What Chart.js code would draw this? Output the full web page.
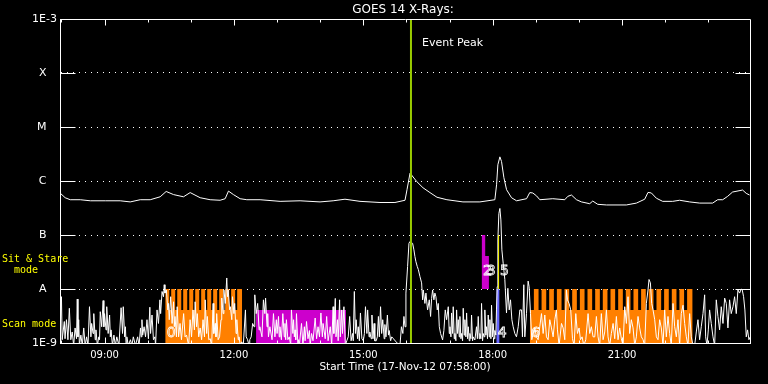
<!DOCTYPE html>
<html><head><meta charset="utf-8">
<script src="https://cdn.jsdelivr.net/npm/chart.js@4/dist/chart.umd.min.js"></script>
<style>html,body{margin:0;padding:0;background:#000;overflow:hidden}canvas{display:block}</style>
</head><body>
<canvas id="c" width="768" height="384"></canvas>
<script>
// ---------- texts ----------
const plotTitle = 'GOES 14 X-Rays:';
const startLabel = 'Start Time (17-Nov-12 07:58:00)';
const eventLabel = 'Event Peak';
const modeLabelsSS = ['Sit & Stare', '  mode'];
const modeLabelScan = 'Scan mode';

// ---------- axes ----------
const startMinuteOfDay = 478;          // 07:58
const spanMinutes = 960;               // 16 hours
const xTickMinutes = [62, 242, 422, 602, 782];   // 09:00 ... 21:00
const yTickValues = [1e-9, 1e-8, 1e-7, 1e-6, 1e-5, 1e-4, 1e-3];
const yTickLabels = ['1E-9', 'A', 'B', 'C', 'M', 'X', '1E-3'];

// ---------- long channel (1-8 A), minutes after start / W m^-2 ----------
const longT = [0,7.2,14.2,28.2,42.2,63,83.8,97.7,111.6,125.5,139.4,147.7,158,171.8,181.1,195,208.9,222.8,229.8,234.4,241.3,250.6,259.9,278.4,306.2,334,361.8,380,396.5,417.4,445.2,466,480,482.8,487,496.2,505,514.7,524.5,538.3,560.6,584.2,605,607.4,609.2,612,614.3,617.6,621.3,628.2,635.2,649.1,653.6,657.8,663,667.6,685.6,702.3,706.5,711.6,718.6,725.5,737,741.2,748.2,760.3,788,802,813.5,818.1,822.8,829.7,838.5,852.4,862.1,876,890,908,915,922,928.9,935.8,949.7,954.8,959.4];
const longF = [6.0e-7,4.9e-7,4.5e-7,4.5e-7,4.3e-7,4.3e-7,4.3e-7,4.1e-7,4.5e-7,4.5e-7,5.1e-7,6.4e-7,5.6e-7,5.1e-7,6.1e-7,4.9e-7,4.5e-7,4.4e-7,4.7e-7,6.5e-7,5.6e-7,4.7e-7,4.5e-7,4.5e-7,4.2e-7,4.3e-7,4.1e-7,4.3e-7,4.6e-7,4.2e-7,4.0e-7,4.0e-7,4.4e-7,6.9e-7,1.4e-6,9.8e-7,7.5e-7,6.1e-7,5.0e-7,4.5e-7,4.1e-7,4.1e-7,4.5e-7,8.5e-7,2.0e-6,2.8e-6,2.3e-6,1.15e-6,6.9e-7,4.9e-7,4.3e-7,4.7e-7,6.1e-7,6.0e-7,5.3e-7,4.5e-7,4.7e-7,4.5e-7,5.2e-7,5.5e-7,4.5e-7,4.1e-7,3.8e-7,4.25e-7,3.7e-7,3.6e-7,3.6e-7,3.9e-7,4.6e-7,6.15e-7,6.0e-7,4.8e-7,4.2e-7,4.2e-7,4.4e-7,4.1e-7,3.9e-7,3.9e-7,4.5e-7,4.5e-7,5.2e-7,6.25e-7,6.8e-7,5.9e-7,5.5e-7];

// ---------- short channel (0.5-4 A) ----------
const shortT = [0,2,3,6,7,9,11,13,15,17,19,21,23,24,25,26,27,29,31,33,35,37,39,41,43,44,46,47,49,50,52,54,55,56,58,60,61,62,64,65,67,69,70,71,73,75,77,79,82,85,87,88,90,91,92,93,95,98,100,102,105,108,110,112,113,114,115,117,119,121,123,125,126,128,130,132,133,135,137,139,140,142,144,145,146,148,150,151,152,154,156,158,159,160,162,163,165,167,169,172,174,176,179,181,183,185,187,188,190,191,193,195,197,199,201,202,204,205,207,209,211,213,214,216,217,218,220,222,224,225,227,228,230,232,233,234,236,237,239,240,242,243,245,246,248,249,251,253,255,258,259,261,263,264,266,268,270,271,273,275,277,278,281,283,285,286,288,289,290,292,295,297,299,301,302,304,305,306,308,310,312,313,314,315,317,319,321,322,324,325,326,327,328,329,331,332,333,
336,338,340,341,343,345,347,348,350,352,355,357,359,361,363,365,366,369,371,373,376,378,380,381,383,384,386,387,389,390,392,393,395,397,399,401,403,405,407,408,409.5,411,412,414,415,416.5,418,420,422,423.5,425,427,428,430,431,433,434,435.5,437,438,440,441.5,443,444.3,446,447.5,449,451,452,453.5,455.5,457,458,460,461.5,464,466,468,471,473,475,477,478.5,480,481.3,483.6,485.5,486.9,488.3,490.6,492.4,493.8,495.2,497.1,498.5,500.8,503.1,504.5,505.4,507.7,509.1,511.4,513.8,515.6,517,518.4,520.2,521.6,523,524.9,526.3,527.7,529.5,532.3,534.1,536,537.9,540.2,541.6,542.5,543.9,544.8,546.2,547.1,548.5,549.4,550.8,551.8,553.1,554.1,555.5,556.4,557.8,558.7,560.1,561,562.4,563.3,564.7,565.7,567,568,569.4,570.3,571.7,572.6,574,574.9,577.2,579.5,580.7,581.9,583.3,584.2,585.6,586.5,587.9,588.8,590.2,591.1,592.5,593.4,594.8,595.8,597.2,598.1,599.5,600.4,601.8,602.7,604.1,605,606.4,607.3,608.3,609.2,610.6,612,613.4,614.8,616.6,618.9,621.2,623.1,625,626.8,628.7,630.5,632.8,635.1,637.5,639.8,
642.1,643.4,645.3,646.7,649,651.3,652.7,654.6,656.4,658.3,660.6,662.9,665.2,667.5,669.9,672.2,674.5,676.8,679.1,681.4,683.8,686.1,688.4,690.7,692.1,694.4,697.7,700,702.3,704.6,706,708.3,710.6,713,715.3,717.6,719.9,722.2,724.1,726.4,728.7,731.5,734.7,737,739.3,741.7,744,746.3,748.6,750.9,753.2,755.6,757.9,760.2,762.5,764.8,767.1,769.5,771.8,774.1,776.4,778.7,781,783.4,785.7,788,790.3,792.6,794.9,797.3,799.6,801.9,804.2,806.5,808.8,811.2,813.5,815.8,818.1,819.5,821.4,823.2,825.1,827.4,829.7,832,834.3,836.6,839,841.3,843.6,845.9,848.2,850.5,852.9,855.2,857.5,859.8,862.1,864.4,866.8,869.1,871.4,873.7,876,878.3,880.7,883,885.3,887.6,889.9,892.2,894.6,896.9,898.3,900.1,902,903.8,906.1,908.5,910.8,913.1,915.4,917.7,920,922.4,924.7,927,929.3,931.6,933.9,936.3,938.6,940.9,943.2,945.5,947.8,949.2,951.1,952.9,954.8,956.6,958.5,960.3];
const shortF = [1.5e-9,7.2e-9,1.15e-9,2.5e-9,1.2e-9,2.7e-9,1.15e-9,4.4e-9,1.15e-9,1.6e-9,9e-10,1.9e-9,1.2e-9,6.5e-9,1.3e-9,2.7e-9,9e-10,1.4e-9,9e-10,1.9e-9,9e-10,1.3e-9,9e-10,4.7e-9,1.3e-9,2.3e-9,1.5e-9,3.5e-9,1.15e-9,1.75e-9,9e-10,1.3e-9,1.15e-9,3.8e-9,2.0e-9,6.1e-9,2.0e-9,3.5e-9,1.75e-9,4.7e-9,1.5e-9,3.3e-9,1.3e-9,1.75e-9,9e-10,1.4e-9,9e-10,1.3e-9,9e-10,4.5e-9,1.5e-9,4.7e-9,1.3e-9,2.0e-9,9e-10,1.3e-9,9e-10,1.15e-9,9e-10,1.3e-9,9e-10,1.3e-9,9e-10,1.9e-9,1.3e-9,2.7e-9,1.4e-9,2.0e-9,1.3e-9,2.7e-9,1.2e-9,4.6e-9,1.5e-9,3.3e-9,1.15e-9,1.3e-9,9e-10,4.1e-9,2.3e-9,6.3e-9,3.5e-9,9.0e-9,7.2e-9,1.2e-8,8.4e-9,9.6e-9,4.1e-9,5.4e-9,2.7e-9,7.2e-9,2.3e-9,5.8e-9,2.0e-9,3.1e-9,1.3e-9,4.7e-9,1.3e-9,2.3e-9,1.15e-9,3.5e-9,1.3e-9,1.4e-9,9e-10,2.7e-9,1.3e-9,4.1e-9,1.75e-9,5.8e-9,2.0e-9,3.5e-9,1.3e-9,1.9e-9,1.15e-9,2.7e-9,1.3e-9,6.3e-9,1.5e-9,3.1e-9,1.15e-9,1.2e-9,9e-10,5.4e-9,1.5e-9,2.3e-9,1.3e-9,3.5e-9,1.15e-9,1.3e-9,2.7e-9,6.8e-9,3.5e-9,9.6e-9,5.4e-9,1.6e-8,7.2e-9,9.6e-9,4.1e-9,4.7e-9,2.7e-9,7.2e-9,3.5e-9,5.4e-9,1.5e-9,2.7e-9,1.15e-9,1.3e-9,9e-10,1.05e-9,9e-10,4.1e-9,1.3e-9,1.15e-9,9e-10,1.15e-9,1.3e-9,2.3e-9,2.0e-9,7.8e-9,3.5e-9,5.4e-9,1.75e-9,2.0e-9,1.3e-9,6.3e-9,3.5e-9,6.8e-9,2.0e-9,3.5e-9,1.3e-9,2.0e-9,1.15e-9,3.5e-9,1.3e-9,2.7e-9,1.5e-9,3.1e-9,1.3e-9,2.0e-9,1.15e-9,3.5e-9,1.3e-9,2.3e-9,1.15e-9,2.7e-9,1.15e-9,1.3e-9,9e-10,4.1e-9,1.5e-9,2.7e-9,1.3e-9,1.75e-9,1.15e-9,3.5e-9,9e-10,1.15e-9,9e-10,
2.3e-9,9e-10,2.0e-9,1.1e-9,2.5e-9,1.2e-9,1.7e-9,9e-10,1.5e-9,1.1e-9,2.9e-9,1.2e-9,2.0e-9,1.3e-9,3.6e-9,1.3e-9,2.3e-9,1.2e-9,3.1e-9,1.1e-9,2.0e-9,9e-10,4.7e-9,1.5e-9,6.7e-9,1.3e-9,2.7e-9,1.1e-9,6.3e-9,1.3e-9,4.1e-9,1.5e-9,4.7e-9,9e-10,1.1e-9,1.3e-9,3.1e-9,1.1e-9,1.5e-9,1.1e-9,9.0e-9,1.5e-9,2.7e-9,1.2e-9,2.0e-9,1.1e-9,3.6e-9,1.2e-9,1.1e-9,1.5e-9,4.7e-9,1.5e-9,4.1e-9,1.3e-9,1.6e-9,1.2e-9,3.3e-9,1.2e-9,2.3e-9,1.1e-9,1.1e-9,1.3e-9,3.1e-9,1.3e-9,4.7e-9,1.5e-9,2.7e-9,1.2e-9,2.2e-9,1.3e-9,3.3e-9,1.4e-9,1.7e-9,1.1e-9,1.3e-9,1.2e-9,1.1e-9,1.05e-9,9e-10,9e-10,2.0e-9,1.5e-9,3.1e-9,2.0e-9,8.4e-9,2.6e-8,7.0e-8,7.6e-8,7.3e-8,7.0e-8,5.3e-8,4.0e-8,3.2e-8,2.6e-8,2.3e-8,1.7e-8,1.3e-8,6.3e-9,9.6e-9,5.4e-9,8.4e-9,4.1e-9,6.3e-9,3.1e-9,6.7e-9,9.6e-9,6.3e-9,8.4e-9,7.2e-9,4.1e-9,5.4e-9,2.0e-9,1.5e-9,1.14e-9,1.7e-9,4.1e-9,2.7e-9,4.7e-9,1.5e-9,2.0e-9,1.3e-9,3.6e-9,1.5e-9,4.7e-9,1.2e-9,1.5e-9,1.1e-9,4.1e-9,1.5e-9,2.7e-9,1.3e-9,3.1e-9,1.2e-9,1.5e-9,1.1e-9,4.4e-9,1.4e-9,2.7e-9,1.3e-9,3.6e-9,1.2e-9,2.0e-9,1.1e-9,1.5e-9,1.2e-9,3.3e-9,1.1e-9,1.3e-9,1.14e-9,2.0e-9,1.2e-9,3.1e-9,1.2e-9,1.5e-9,1.2e-9,5.4e-9,1.1e-9,1.5e-9,1.3e-9,4.1e-9,1.4e-9,2.0e-9,1.2e-9,3.3e-9,1.3e-9,2.7e-9,1.2e-9,5.0e-9,1.3e-9,2.3e-9,1.2e-9,1.7e-9,1.4e-9,4.1e-9,1.1e-8,8.1e-8,2.5e-7,3.1e-7,1.9e-7,5.3e-8,3.0e-8,1.5e-8,3.6e-9,1.03e-8,4.1e-9,6.3e-9,2.7e-9,2.0e-9,1.5e-9,1.3e-9,2.0e-9,4.1e-9,
4.1e-9,1.3e-9,1.2e-8,1.3e-9,3.5e-9,1.4e-8,1.1e-8,3.5e-9,1.15e-9,1.5e-9,1.9e-9,1.3e-9,1.15e-9,2.0e-9,3.5e-9,1.5e-9,3.3e-9,1.3e-9,1.15e-9,2.7e-9,1.9e-9,1.3e-9,2.7e-9,4.1e-9,1.75e-9,9e-10,2.3e-9,1.9e-9,1.15e-9,9.6e-9,6.3e-9,5.4e-9,4.1e-9,1.2e-9,9e-10,3.5e-9,1.5e-9,1.9e-9,1.15e-9,1.3e-9,9e-10,1.15e-9,3.5e-9,1.5e-9,2.0e-9,1.3e-9,1.3e-9,3.1e-9,1.3e-9,9e-10,3.5e-9,1.15e-9,1.6e-9,4.1e-9,1.3e-9,9e-10,1.5e-9,2.3e-9,1.2e-9,3.1e-9,1.15e-9,1.9e-9,1.2e-9,9e-10,4.7e-9,2.3e-9,7.2e-9,1.5e-9,2.7e-9,1.9e-9,9e-10,1.3e-9,3.1e-9,1.9e-9,1.3e-9,1.15e-9,9e-10,5.4e-9,9.6e-9,1.5e-8,1.3e-8,5.4e-9,4.1e-9,2.7e-9,1.3e-9,1.15e-9,2.7e-9,1.9e-9,9e-10,4.1e-9,1.3e-9,3.1e-9,1.5e-9,9e-10,5.4e-9,2.0e-9,1.3e-9,2.7e-9,9e-10,3.5e-9,5.0e-9,2.3e-9,1.3e-9,9e-10,3.5e-9,1.3e-9,9e-10,9e-10,1.6e-9,2.7e-9,1.15e-9,2.0e-9,3.5e-9,7.8e-9,1.3e-9,9e-10,1.75e-9,4.1e-9,2.3e-9,1.3e-9,9e-10,6.3e-9,3.1e-9,1.75e-9,4.7e-9,2.3e-9,6.8e-9,5.4e-9,1.9e-9,6.3e-9,3.5e-9,4.7e-9,7.2e-9,3.5e-9,9.6e-9,8.4e-9,1.0e-8,9.6e-9,7.2e-9,4.1e-9,1.3e-9,1.75e-9,1.15e-9,1.3e-9];

// ---------- event ----------
const eventPeakT = 488.3;

// ---------- observing modes ----------
const scanBase = 4.1e-9, scanTop = 1e-8;
const scan0Start = 146.4, scan0End = 253.4;
const scan0ToothStart = [146.4,154.7,163.1,171.4,179.8,188.1,196.4,204.8,213.1,221.5,229.8,238.1,246.5];
const scan0ToothEnd   = [152.0,160.3,168.7,177.0,185.4,193.7,202.0,210.4,218.7,227.1,235.4,243.7,253.4];
const scan6Start = 653.7, scan6End = 880.2;
const scan6ToothStart = [659.3,670.0,680.6,691.3,701.9,712.6,723.3,733.9,744.6,755.2,765.9,776.6,787.2,797.9,808.5,819.2,829.9,840.5,851.2,861.8,872.5];
const scan6ToothEnd   = [665.8,676.5,687.1,697.8,708.4,719.1,729.8,740.4,751.1,761.7,772.4,783.1,793.7,804.4,815.0,825.7,836.4,847.0,857.7,868.3,880.2];
const magScanT = [272.8, 398.0];
const magScanF = [4.1e-9, 4.1e-9];
const magSST = [586.6, 591.6, 596.8];
const magSSF = [1e-7, 4.1e-8, 4.1e-8];
const ssBase = 1e-8;
const blueT = [607.0, 611.6];
const blueF = [1e-8, 1e-8];
const yellowT = [610.2, 610.2];
const yellowF = [1e-8, 1e-7];
const obsLabels = ['0', '2', '3', '4', '5', '6'];
const obsT = [146.4, 586.6, 591.6, 607.0, 610.2, 653.7];
const obsF = [1.53e-9, 2.1e-8, 2.1e-8, 1.53e-9, 2.1e-8, 1.53e-9];

// ---------- build ----------
const zip = (t, f) => t.map((x, i) => ({x, y: f[i]}));
function comb(start, end, ts, te) {
  const pts = [{x: start, y: scanBase}];
  ts.forEach((s, i) => { pts.push({x: s, y: scanTop}); pts.push({x: te[i], y: scanBase}); });
  pts.push({x: end, y: scanBase});
  return pts;
}
const fmt = v => {
  const m = Math.round(startMinuteOfDay + v);
  return String(Math.floor(m / 60) % 24).padStart(2, '0') + ':' + String(m % 60).padStart(2, '0');
};
const FONT = 'DejaVu Sans';

const decor = {
  id: 'decor',
  afterDraw(chart) {
    const {ctx, chartArea: a, scales: {x, y}} = chart;
    ctx.save();
    ctx.strokeStyle = '#fff';
    ctx.lineWidth = 1;
    const L = Math.round(a.left) + 0.5, R = Math.round(a.right) + 0.5;
    const T = Math.round(a.top) + 0.5, B = Math.round(a.bottom) + 0.5;
    ctx.beginPath();
    ctx.rect(L, T, R - L, B - T);
    yTickValues.slice(1, -1).forEach(v => {
      const py = Math.round(y.getPixelForValue(v)) + 0.5;
      ctx.moveTo(L, py); ctx.lineTo(L + 15, py);
      ctx.moveTo(R - 15, py); ctx.lineTo(R, py);
    });
    for (let m = 60 - (startMinuteOfDay % 60); m < spanMinutes; m += 60) {
      const hr = Math.round((startMinuteOfDay + m) / 60);
      const len = hr % 3 === 0 ? 6 : 3;
      const px = Math.round(x.getPixelForValue(m)) + 0.5;
      ctx.moveTo(px, T); ctx.lineTo(px, T + len);
      ctx.moveTo(px, B); ctx.lineTo(px, B - len);
    }
    ctx.stroke();

    ctx.fillStyle = '#fff';
    ctx.textBaseline = 'middle';
    ctx.textAlign = 'center';
    ctx.font = '12px ' + FONT;
    ctx.fillText(plotTitle, (a.left + a.right) / 2 - 2, 10);
    ctx.textAlign = 'left';
    ctx.font = '11px ' + FONT;
    ctx.fillText(eventLabel, x.getPixelForValue(eventPeakT) + 11, 43);

    ctx.fillStyle = '#ffff00';
    ctx.font = '10px "DejaVu Sans Mono"';
    ctx.fillText(modeLabelsSS[0], 2, y.getPixelForValue(3.6e-8));
    ctx.fillText(modeLabelsSS[1], 2, y.getPixelForValue(2.2e-8));
    ctx.fillText(modeLabelScan, 2, y.getPixelForValue(2.25e-9));

    ctx.strokeStyle = '#fff';
    ctx.lineWidth = 0.8;
    ctx.font = '14px ' + FONT;
    obsLabels.forEach((s, i) => {
      ctx.strokeText(s, x.getPixelForValue(obsT[i]) + 1.5, y.getPixelForValue(obsF[i]));
    });
    ctx.restore();
  }
};

new Chart(document.getElementById('c').getContext('2d'), {
  type: 'line',
  data: {
    datasets: [
      {data: zip([eventPeakT, eventPeakT], [1e-9, 1e-3]), borderColor: '#99cc00', borderWidth: 2},
      {data: zip(yellowT, yellowF), borderColor: '#ffff00', borderWidth: 1},
      {data: zip(longT, longF), borderColor: '#ffffff', borderWidth: 1, borderJoinStyle: 'bevel'},
      {data: zip(shortT, shortF), borderColor: '#ffffff', borderWidth: 1, borderJoinStyle: 'bevel'},
      {data: zip(blueT, blueF), borderWidth: 0, stepped: 'before', fill: 'start', backgroundColor: '#6666ff'},
      {data: zip(magSST, magSSF), borderWidth: 0, stepped: 'before', fill: {value: ssBase}, backgroundColor: '#cc00cc'},
      {data: zip(magScanT, magScanF), borderWidth: 0, stepped: 'before', fill: 'start', backgroundColor: '#cc00cc'},
      {data: comb(scan0Start, scan0End, scan0ToothStart, scan0ToothEnd), borderWidth: 0, stepped: 'before', fill: 'start', backgroundColor: '#ff8000'},
      {data: comb(scan6Start, scan6End, scan6ToothStart, scan6ToothEnd), borderWidth: 0, stepped: 'before', fill: 'start', backgroundColor: '#ff8000'}
    ]
  },
  options: {
    responsive: false, animation: false, devicePixelRatio: 1,
    layout: {padding: {top: 19, right: 18, left: 0, bottom: 0}},
    plugins: {legend: {display: false}, tooltip: {enabled: false}, title: {display: false}},
    elements: {point: {radius: 0}, line: {tension: 0}},
    scales: {
      x: {
        type: 'linear', min: 0, max: spanMinutes,
        grid: {display: false, drawTicks: false},
        border: {display: true, color: '#fff', width: 1},
        ticks: {color: '#fff', font: {family: FONT, size: 10}, padding: 6, maxRotation: 0, autoSkip: false, callback: v => fmt(v)},
        afterBuildTicks: s => { s.ticks = xTickMinutes.map(v => ({value: v})); },
        afterFit: s => { s.height = 41; },
        title: {display: true, text: startLabel, color: '#fff', font: {family: FONT, size: 10.5}, padding: {top: 0, bottom: 10}}
      },
      y: {
        type: 'logarithmic', min: 1e-9, max: 1e-3,
        grid: {color: '#fff', lineWidth: 1, drawTicks: false},
        border: {display: true, color: '#fff', dash: [1, 5]},
        ticks: {color: '#fff', font: {family: FONT, size: 11}, padding: 3, autoSkip: false,
          callback: (v, i) => { const s = yTickLabels[i]; return s.length === 1 ? s + '   ' : s; }},
        afterBuildTicks: s => { s.ticks = yTickValues.map(v => ({value: v})); },
        afterFit: s => { s.width = 60; }
      }
    }
  },
  plugins: [decor]
});
</script>
</body></html>
